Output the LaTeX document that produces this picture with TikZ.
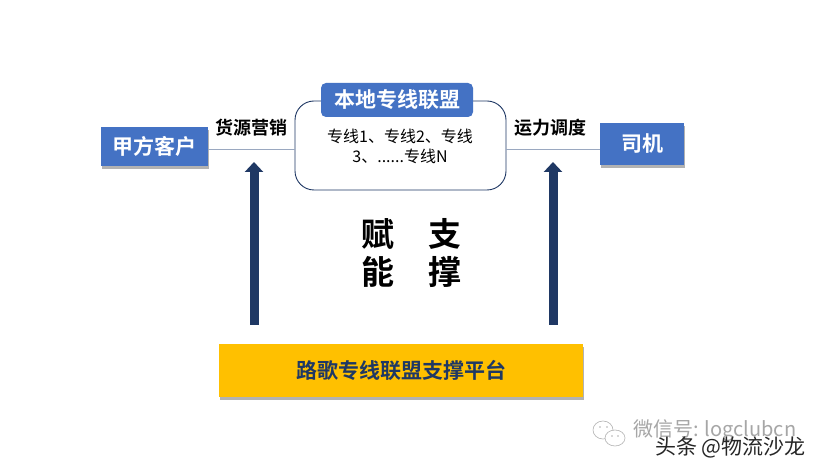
\documentclass[tikz,border=0pt]{standalone}
\usepackage{xcolor}
\usepackage{fontspec}
\usepackage{tikz}
\usetikzlibrary{arrows.meta,shadows}
\setmainfont{Noto Sans CJK SC}
\newfontfamily\cjkbold[BoldFont={Noto Sans CJK SC Bold}]{Noto Sans CJK SC Bold}
\definecolor{boxblue}{HTML}{4472C4}
\definecolor{navy}{HTML}{1F3864}
\definecolor{gold}{HTML}{FFC000}
\definecolor{linkgray}{HTML}{9AA8C0}
\tikzset{
  boxshadow/.style={drop shadow={shadow xshift=1pt,shadow yshift=-3pt,fill=black,opacity=.3}},
  bluebox/.style={fill=boxblue,text=white,boxshadow,inner sep=0pt,font=\cjkbold\fontsize{21}{24}\selectfont},
  tag/.style={text=black,inner sep=0pt,font=\cjkbold\fontsize{18}{20}\selectfont},
  bigchar/.style={text=black,inner sep=0pt,font=\cjkbold\fontsize{33}{34}\selectfont},
  link/.style={draw=linkgray,line width=0.9pt},
  uparrow/.style={draw=navy,line width=9pt,-{Triangle[width=18pt,length=10pt]}},
  chatface/.style={draw=gray!60,line width=0.6pt,fill=white},
}
\begin{document}
\begin{tikzpicture}[x=1pt,y=-1pt]
  \useasboundingbox (0,0) rectangle (820,470);
  \fill[white] (0,0) rectangle (820,470);
  % boxes
  \node[bluebox,minimum width=107pt,minimum height=39pt] (client) at (154.5,146.5) {甲方客户};
  \node[bluebox,minimum width=84pt,minimum height=42pt] (driver) at (642,144) {司机};
  \node[draw=navy,line width=0.9pt,fill=white,rounded corners=19pt,minimum width=211pt,minimum height=89pt,inner sep=0pt] (alliance) at (400.5,145.5) {};
  \draw[link] (client.east |- 0,149) -- (alliance.west |- 0,149);
  \draw[link] (alliance.east |- 0,149) -- (driver.west |- 0,149);
  \node[fill=boxblue,text=white,rounded corners=5pt,minimum width=152pt,minimum height=34pt,inner sep=0pt,font=\cjkbold\fontsize{21}{24}\selectfont] (title) at (397,100) {本地专线联盟};
  \node[align=center,inner sep=0pt,font=\fontsize{16}{20}\selectfont] (routes) at (400,146) {专线1、专线2、专线\\3、......专线N};
  % labels
  \node[tag] (sourcing) at (251,128) {货源营销};
  \node[tag] (dispatch) at (550,128) {运力调度};
  \node[bigchar] (fu) at (378,234) {赋};
  \node[bigchar] (zhi) at (445,234) {支};
  \node[bigchar] (neng) at (378,272) {能};
  \node[bigchar] (cheng) at (445,272) {撑};
  % platform
  \node[fill=gold,text=navy,boxshadow,minimum width=364pt,minimum height=53pt,inner sep=0pt,font=\cjkbold\fontsize{21}{24}\selectfont] (platform) at (401,370.5) {路歌专线联盟支撑平台};
  \coordinate (leftbase) at (254,325);
  \coordinate (lefttip) at (254,162);
  \coordinate (rightbase) at (553,325);
  \coordinate (righttip) at (553,162);
  \draw[uparrow] (leftbase) -- (lefttip);
  \draw[uparrow] (rightbase) -- (righttip);
  % watermark
  \draw[chatface] (603,430) ellipse (10pt and 9pt);
  \draw[chatface] (615,438) ellipse (10pt and 8pt);
  \foreach \x/\y in {600/427,607/427,612/436,618/436}
    \fill[gray!60] (\x,\y) circle (0.8pt);
  \node[text=gray!70,anchor=west,inner sep=0pt,font=\fontsize{20}{22}\selectfont] (wechat) at (633,431) {微信号: logclubcn};
  \node[text=black!85,anchor=west,inner sep=0pt,font=\fontsize{21}{22}\selectfont] (toutiao) at (655,447) {头条 @物流沙龙};
\end{tikzpicture}
\end{document}
